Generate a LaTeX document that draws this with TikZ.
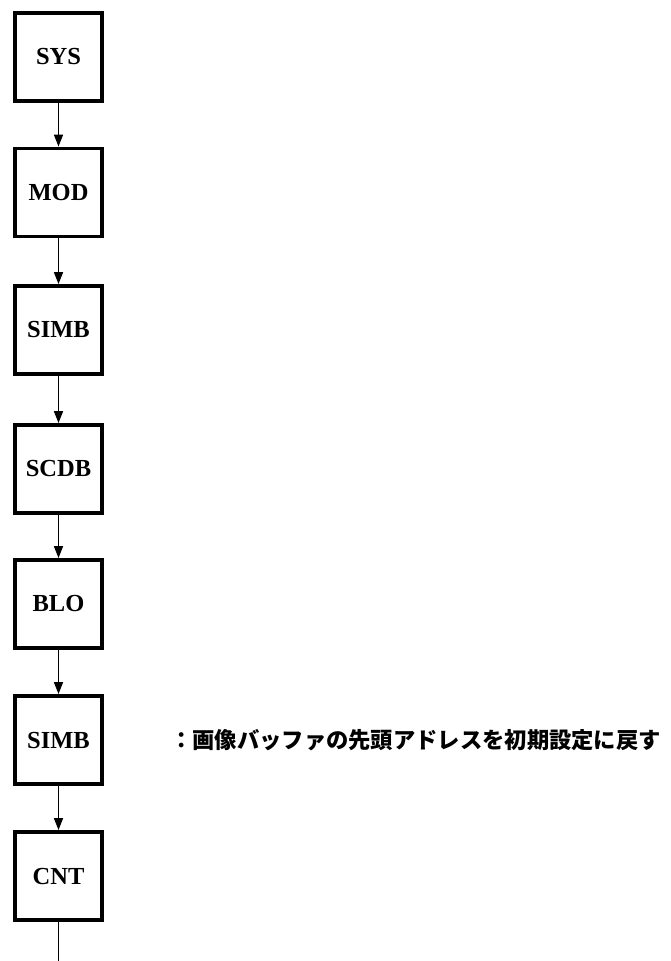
\documentclass[tikz,border=0pt]{standalone}
\usepackage{fontspec}
\setmainfont{Liberation Serif}
\newfontfamily\jpfont{Noto Sans CJK JP}
\usetikzlibrary{arrows.meta}
\begin{document}
\begin{tikzpicture}[x=1pt,y=-1pt,
  blk/.style={draw=black,line width=3.8pt,minimum width=87pt,minimum height=88pt,inner sep=0pt,
    font=\fontsize{24.5}{27}\selectfont\bfseries},
  flow/.style={line width=1.5pt,-{Triangle[length=12pt,width=9pt]}}]
\useasboundingbox (0,0) rectangle (670,961);
\node[blk] (sys) at (58.5,57) {SYS};
\node[blk] (mod) at (58.5,192.5) {MOD};
\node[blk] (simb1) at (58.5,330) {SIMB};
\node[blk] (scdb) at (58.5,469) {SCDB};
\node[blk] (blo) at (58.5,604) {BLO};
\node[blk] (simb2) at (58.5,740) {SIMB};
\node[blk] (cnt) at (58.5,876) {CNT};
\coordinate (end) at (58.5,961);
\draw[flow] (sys) -- (mod);
\draw[flow] (mod) -- (simb1);
\draw[flow] (simb1) -- (scdb);
\draw[flow] (scdb) -- (blo);
\draw[flow] (blo) -- (simb2);
\draw[flow] (simb2) -- (cnt);
\draw[line width=1.5pt] (cnt) -- (end);
\node[anchor=west,inner sep=0pt,font=\jpfont\fontsize{22.3}{24}\selectfont\bfseries] (note) at (170,740) {：画像バッファの先頭アドレスを初期設定に戻す};
\end{tikzpicture}
\end{document}
